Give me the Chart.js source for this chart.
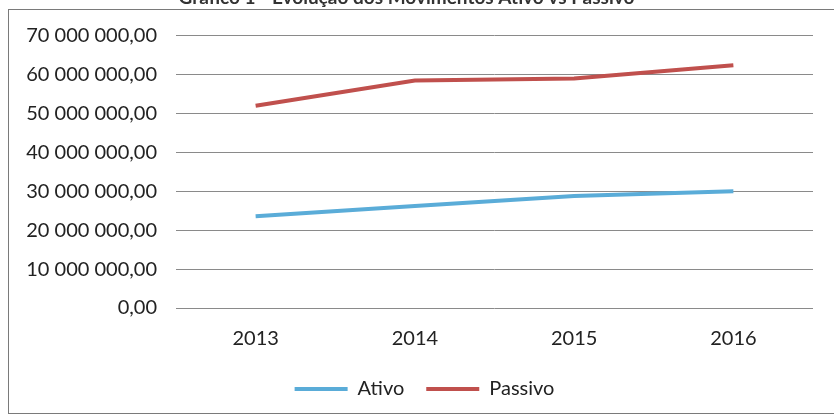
<!DOCTYPE html>
<html>
<head>
<meta charset="utf-8">
<script src="https://cdn.jsdelivr.net/npm/chart.js@4.4.1/dist/chart.umd.min.js"></script>
<style>
  html, body { margin: 0; padding: 0; background: #fff; overflow: hidden; }
  #wrap { position: relative; width: 834px; height: 420px; overflow: hidden; }
  #chart { position: absolute; left: 0; top: -16px; }
</style>
</head>
<body>
<div id="wrap"><canvas id="chart" width="834" height="436"></canvas></div>
<script>
const years = ['2013', '2014', '2015', '2016']
const ativo = [23600000, 26200000, 28800000, 30000000]
const passivo = [52000000, 58500000, 59000000, 62400000]
const chartTitle = 'Gráfico 1 - Evolução dos Movimentos Ativo vs Passivo'

// 70 000 000,00 style numbers
function fmt(v) {
  let [i, d] = Math.abs(v).toFixed(2).split('.')
  i = i.replace(/\B(?=(\d{3})+(?!\d))/g, ' ')
  return i + ',' + d
}

const frame = {
  id: 'frame',
  afterLayout(chart) {
    // legend sits a bit right of centre in the original
    chart.legend.left += 18
    chart.legend.right += 18
  },
  beforeDraw(chart) {
    const c = chart.ctx
    c.save()
    c.fillStyle = '#fff'
    c.fillRect(0, 0, chart.width, chart.height)
    c.strokeStyle = '#7a7a7a'
    c.lineWidth = 1
    c.strokeRect(8.5, 25.5, 840, 404)
    c.restore()
  }
}

const font = { family: 'Lato', size: 20 }

new Chart(document.getElementById('chart').getContext('2d'), {
  type: 'line',
  data: {
    labels: years,
    datasets: [{
      label: 'Ativo',
      data: ativo,
      borderColor: '#5aacd8',
      backgroundColor: '#5aacd8',
      borderWidth: 4,
      pointRadius: 0,
      tension: 0
    }, {
      label: 'Passivo',
      data: passivo,
      borderColor: '#c0504d',
      backgroundColor: '#c0504d',
      borderWidth: 4,
      pointRadius: 0,
      tension: 0
    }]
  },
  plugins: [frame],
  options: {
    responsive: false,
    animation: false,
    layout: { padding: { left: 0, right: 21, top: 0, bottom: 11 } },
    plugins: {
      title: {
        display: true,
        text: chartTitle,
        color: '#333',
        font: { family: 'Lato', size: 19, weight: 'bold' },
        padding: { top: 2, bottom: 27 }
      },
      legend: {
        position: 'bottom',
        labels: {
          usePointStyle: true,
          pointStyle: 'line',
          pointStyleWidth: 53,
          boxHeight: 20,
          color: '#222',
          font: font,
          padding: 22
        }
      },
      tooltip: { enabled: false }
    },
    scales: {
      x: {
        offset: true,
        afterFit: (s) => { s.height -= 5 },
        grid: { display: false },
        border: { display: false },
        ticks: { color: '#222', font: font, padding: 11 }
      },
      y: {
        min: 0,
        max: 70000000,
        afterFit: (s) => { s.width = 176 },
        grid: { color: '#8a8a8a', drawTicks: false },
        border: { display: false },
        ticks: {
          stepSize: 10000000,
          color: '#222',
          font: font,
          padding: 19,
          callback: (v) => fmt(v)
        }
      }
    }
  }
})
</script>
</body>
</html>
